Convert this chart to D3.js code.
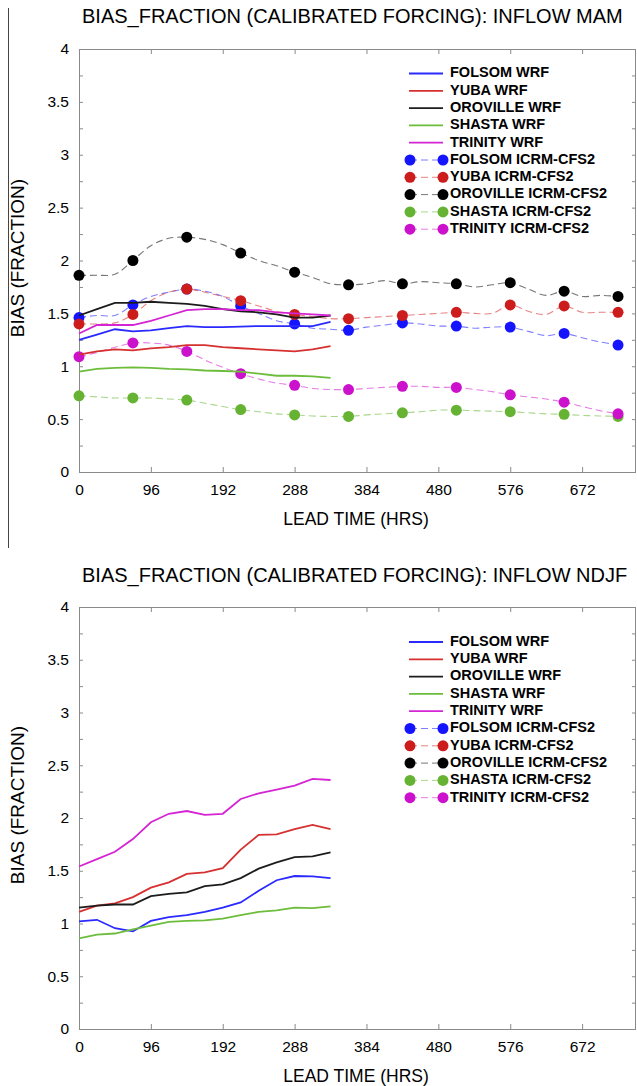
<!DOCTYPE html>
<html>
<head>
<meta charset="utf-8">
<script src="https://cdn.jsdelivr.net/npm/d3@7"></script>
<style>
  body { margin: 0; background: #fff; }
  svg { display: block; font-family: "Liberation Sans", Arial, sans-serif; }
</style>
</head>
<body>
<svg width="637" height="1086"></svg>
<script>
// lead times (hrs)
const wrfHours = [0, 24, 48, 72, 96, 120, 144, 168, 192, 216, 240, 264, 288, 312, 336];
const icrmHours = [0, 24, 48, 72, 96, 120, 144, 168, 192, 216, 240, 264, 288, 312, 336,
  360, 384, 408, 432, 456, 480, 504, 528, 552, 576, 600, 624, 648, 672, 696, 720];
const xTicks = [0, 96, 192, 288, 384, 480, 576, 672];
const yTicks = [0, 0.25, 0.5, 0.75, 1, 1.25, 1.5, 1.75, 2, 2.25, 2.5, 2.75, 3, 3.25, 3.5, 3.75, 4];

const basins = ["FOLSOM", "YUBA", "OROVILLE", "SHASTA", "TRINITY"];
const lineColors = ["#2a2aff", "#d63030", "#1c1c1c", "#6dbd3c", "#d424d4"];
const dotColors = ["#1414ff", "#cc1c1c", "#000000", "#66b333", "#cc11cc"];

// MAM, WRF (solid)
const mamFolsomWrf   = [1.25, 1.30, 1.35, 1.33, 1.34, 1.36, 1.38, 1.37, 1.37, 1.375, 1.38, 1.38, 1.38, 1.38, 1.42];
const mamYubaWrf     = [1.11, 1.14, 1.16, 1.15, 1.17, 1.18, 1.20, 1.20, 1.18, 1.17, 1.16, 1.15, 1.14, 1.16, 1.19];
const mamOrovilleWrf = [1.48, 1.54, 1.60, 1.60, 1.61, 1.60, 1.59, 1.57, 1.54, 1.52, 1.51, 1.49, 1.46, 1.46, 1.48];
const mamShastaWrf   = [0.95, 0.975, 0.985, 0.99, 0.985, 0.975, 0.97, 0.96, 0.955, 0.95, 0.93, 0.91, 0.91, 0.905, 0.89];
const mamTrinityWrf  = [1.31, 1.39, 1.39, 1.39, 1.43, 1.48, 1.53, 1.54, 1.54, 1.53, 1.53, 1.51, 1.50, 1.49, 1.48];

// MAM, ICRM-CFS2 (dashed, dot every 72 hrs)
const mamFolsomIcrm   = [1.46, 1.48, 1.48, 1.58, 1.66, 1.70, 1.73, 1.71, 1.66, 1.57, 1.50, 1.43, 1.40, 1.36, 1.35,
  1.34, 1.37, 1.39, 1.41, 1.40, 1.38, 1.38, 1.36, 1.37, 1.37, 1.33, 1.29, 1.31, 1.27, 1.23, 1.20];
const mamYubaIcrm     = [1.40, 1.40, 1.41, 1.49, 1.62, 1.70, 1.73, 1.70, 1.66, 1.62, 1.57, 1.52, 1.49, 1.47, 1.45,
  1.45, 1.46, 1.47, 1.48, 1.49, 1.50, 1.51, 1.50, 1.50, 1.58, 1.52, 1.49, 1.57, 1.51, 1.51, 1.51];
const mamOrovilleIcrm = [1.86, 1.86, 1.87, 2.00, 2.14, 2.21, 2.22, 2.20, 2.15, 2.07, 2.00, 1.95, 1.89, 1.84, 1.78,
  1.77, 1.78, 1.81, 1.78, 1.80, 1.79, 1.78, 1.75, 1.77, 1.79, 1.73, 1.67, 1.71, 1.66, 1.67, 1.66];
const mamShastaIcrm   = [0.72, 0.71, 0.70, 0.70, 0.70, 0.69, 0.68, 0.65, 0.62, 0.59, 0.57, 0.55, 0.54, 0.53, 0.525,
  0.525, 0.54, 0.55, 0.56, 0.57, 0.585, 0.585, 0.58, 0.575, 0.57, 0.56, 0.55, 0.545, 0.535, 0.53, 0.525];
const mamTrinityIcrm  = [1.09, 1.13, 1.18, 1.22, 1.22, 1.20, 1.14, 1.06, 0.99, 0.93, 0.88, 0.84, 0.82, 0.79, 0.78,
  0.78, 0.79, 0.80, 0.81, 0.81, 0.80, 0.80, 0.78, 0.76, 0.73, 0.71, 0.69, 0.66, 0.62, 0.58, 0.55];

// NDJF, WRF only
const ndjfFolsomWrf   = [1.02, 1.035, 0.955, 0.925, 1.025, 1.06, 1.08, 1.11, 1.15, 1.20, 1.31, 1.41, 1.45, 1.447, 1.43];
const ndjfYubaWrf     = [1.11, 1.17, 1.19, 1.25, 1.34, 1.39, 1.47, 1.485, 1.525, 1.70, 1.84, 1.845, 1.895, 1.935, 1.895];
const ndjfOrovilleWrf = [1.15, 1.17, 1.18, 1.18, 1.26, 1.28, 1.295, 1.355, 1.37, 1.43, 1.52, 1.58, 1.63, 1.637, 1.675];
const ndjfShastaWrf   = [0.86, 0.895, 0.905, 0.945, 0.98, 1.015, 1.025, 1.03, 1.047, 1.08, 1.11, 1.125, 1.15, 1.145, 1.162];
const ndjfTrinityWrf  = [1.54, 1.61, 1.68, 1.80, 1.96, 2.04, 2.066, 2.03, 2.04, 2.18, 2.234, 2.27, 2.306, 2.37, 2.36];

const svg = d3.select("svg");

// stray frame edge on the left of the top panel
svg.append("line")
  .attr("x1", 8.5).attr("x2", 8.5).attr("y1", 8).attr("y2", 548)
  .attr("stroke", "#444").attr("stroke-width", 1);

function drawPanel(cfg) {
  const x = d3.scaleLinear().domain([0, 744]).range([79, 636]);
  const y = d3.scaleLinear().domain([0, 4]).range([cfg.bottom, cfg.top]);
  const g = svg.append("g");

  // frame
  g.append("rect")
    .attr("x", 79.5).attr("y", cfg.top + 0.5)
    .attr("width", 556).attr("height", cfg.bottom - cfg.top)
    .attr("fill", "none").attr("stroke", "#8a8a8a");

  // inward ticks
  const tickStyle = sel => {
    sel.select(".domain").remove();
    sel.selectAll(".tick line").attr("stroke", "#8a8a8a");
    sel.selectAll(".tick text").attr("fill", "#000").attr("font-size", 15.5)
      .attr("font-family", "Liberation Sans, Arial, sans-serif");
  };
  g.append("g").attr("transform", `translate(0,${cfg.bottom})`)
    .call(d3.axisBottom(x).tickValues(xTicks).tickSize(-5).tickPadding(12))
    .call(tickStyle);
  g.append("g").attr("transform", `translate(0,${cfg.top})`)
    .call(d3.axisTop(x).tickValues(xTicks).tickSize(-5).tickFormat(""))
    .call(tickStyle);
  g.append("g").attr("transform", "translate(79,0)")
    .call(d3.axisLeft(y).tickValues(yTicks).tickSize(-4).tickPadding(10)
      .tickFormat(d => (d * 2) % 1 === 0 ? String(d) : ""))
    .call(tickStyle);
  g.append("g").attr("transform", "translate(636,0)")
    .call(d3.axisRight(y).tickValues(yTicks).tickSize(-4).tickFormat(""))
    .call(tickStyle);

  // titles
  g.append("text")
    .attr("x", 82).attr("y", cfg.titleY)
    .attr("font-size", 20).attr("dominant-baseline", "middle")
    .text(cfg.title);
  g.append("text")
    .attr("x", 356).attr("y", cfg.bottom + 48)
    .attr("text-anchor", "middle").attr("dominant-baseline", "middle")
    .attr("font-size", 17.5)
    .text("LEAD TIME (HRS)");
  g.append("text")
    .attr("transform", `translate(19,${cfg.yLabelY}) rotate(-90)`)
    .attr("text-anchor", "middle").attr("dominant-baseline", "middle")
    .attr("font-size", 19)
    .text("BIAS (FRACTION)");

  const line = d3.line().x(d => x(d[0])).y(d => y(d[1]));

  // ICRM-CFS2 dashed lines and dots
  cfg.icrm.forEach((vals, k) => {
    const pts = icrmHours.map((h, i) => [h, vals[i]]);
    g.append("path").datum(pts)
      .attr("d", line.curve(d3.curveCatmullRom))
      .attr("fill", "none").attr("stroke", lineColors[k]).attr("stroke-opacity", 0.6)
      .attr("stroke-width", 1.1).attr("stroke-dasharray", "7,4");
    g.selectAll(null).data(pts.filter(p => p[0] % 72 === 0)).enter()
      .append("circle")
      .attr("cx", d => x(d[0])).attr("cy", d => y(d[1])).attr("r", 5.5)
      .attr("fill", dotColors[k]);
  });

  // WRF solid lines
  cfg.wrf.forEach((vals, k) => {
    g.append("path").datum(wrfHours.map((h, i) => [h, vals[i]]))
      .attr("d", line.curve(d3.curveLinear))
      .attr("fill", "none").attr("stroke", lineColors[k]).attr("stroke-width", 1.8);
  });

  // legend
  const lg = g.append("g");
  const rows = [];
  basins.forEach((b, k) => rows.push({ label: b + " WRF", k, dot: false }));
  basins.forEach((b, k) => rows.push({ label: b + " ICRM-CFS2", k, dot: true }));
  rows.forEach((r, i) => {
    const yy = cfg.legendY + i * 17.3;
    if (r.dot) {
      lg.append("line").attr("x1", 410).attr("x2", 443).attr("y1", yy).attr("y2", yy)
        .attr("stroke", lineColors[r.k]).attr("stroke-opacity", 0.6).attr("stroke-dasharray", "7,4");
      [410, 443].forEach(cx => lg.append("circle")
        .attr("cx", cx).attr("cy", yy).attr("r", 5.5).attr("fill", dotColors[r.k]));
    } else {
      lg.append("line").attr("x1", 409).attr("x2", 443).attr("y1", yy).attr("y2", yy)
        .attr("stroke", lineColors[r.k]).attr("stroke-width", 1.8);
    }
    lg.append("text")
      .attr("x", 450).attr("y", yy)
      .attr("dominant-baseline", "middle")
      .attr("font-size", 14.5).attr("font-weight", "bold")
      .text(r.label);
  });
}

drawPanel({
  top: 49, bottom: 472, titleY: 18, yLabelY: 258, legendY: 73.5,
  title: "BIAS_FRACTION (CALIBRATED FORCING): INFLOW MAM",
  wrf: [mamFolsomWrf, mamYubaWrf, mamOrovilleWrf, mamShastaWrf, mamTrinityWrf],
  icrm: [mamFolsomIcrm, mamYubaIcrm, mamOrovilleIcrm, mamShastaIcrm, mamTrinityIcrm]
});

drawPanel({
  top: 607, bottom: 1029, titleY: 577, yLabelY: 805, legendY: 642,
  title: "BIAS_FRACTION (CALIBRATED FORCING): INFLOW NDJF",
  wrf: [ndjfFolsomWrf, ndjfYubaWrf, ndjfOrovilleWrf, ndjfShastaWrf, ndjfTrinityWrf],
  icrm: []
});
</script>
</body>
</html>
